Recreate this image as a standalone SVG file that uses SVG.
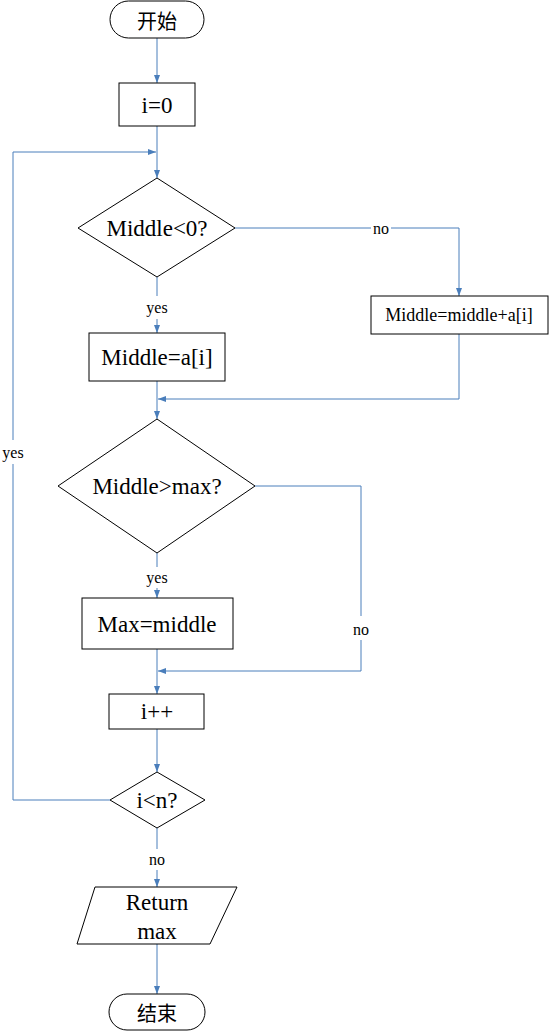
<svg xmlns="http://www.w3.org/2000/svg" width="549" height="1033" viewBox="0 0 549 1033">
<style>
.n{fill:#fff;stroke:#000;stroke-width:1}
text{font-family:"Liberation Serif","Noto Sans CJK SC",serif;fill:#000;text-anchor:middle;dominant-baseline:central}
.big{font-size:23px;font-family:"Liberation Serif",serif}
.cjk{font-size:20px;font-family:"Noto Sans CJK SC",sans-serif}
.lbl{font-size:16px;font-family:"Liberation Serif",serif}
.c{fill:none;stroke:#4A7EBB;stroke-width:1}
</style>
<defs>
<marker id="ah" viewBox="0 0 8 6" refX="8" refY="3" markerWidth="8" markerHeight="6" markerUnits="userSpaceOnUse" orient="auto">
<path d="M0,0 L8,3 L0,6 z" fill="#4A7EBB"/>
</marker>
</defs>
<rect width="549" height="1033" fill="#fff"/>
<g id="connectors">
<path class="c" d="M157,38 V83" marker-end="url(#ah)"/>
<path class="c" d="M157,126 V178" marker-end="url(#ah)"/>
<path class="c" d="M110,800 H13 V464"/>
<path class="c" d="M13,440 V152 H156" marker-end="url(#ah)"/>
<path class="c" d="M157,277 V296"/>
<path class="c" d="M157,319 V333" marker-end="url(#ah)"/>
<path class="c" d="M235,228 H371"/>
<path class="c" d="M391,228 H459 V296" marker-end="url(#ah)"/>
<path class="c" d="M157,381 V419" marker-end="url(#ah)"/>
<path class="c" d="M459,334 V399 H158" marker-end="url(#ah)"/>
<path class="c" d="M157,553 V567"/>
<path class="c" d="M157,588 V598" marker-end="url(#ah)"/>
<path class="c" d="M255,486 H361 V616"/>
<path class="c" d="M361,640 V671 H158" marker-end="url(#ah)"/>
<path class="c" d="M157,649 V694" marker-end="url(#ah)"/>
<path class="c" d="M157,729 V772" marker-end="url(#ah)"/>
<path class="c" d="M157,828 V849"/>
<path class="c" d="M157,870 V887" marker-end="url(#ah)"/>
<path class="c" d="M157,944 V994" marker-end="url(#ah)"/>
</g>
<g id="labels">
<text class="lbl" x="381" y="228">no</text>
<text class="lbl" x="157" y="307">yes</text>
<text class="lbl" x="157" y="577">yes</text>
<text class="lbl" x="361" y="629">no</text>
<text class="lbl" x="13" y="452">yes</text>
<text class="lbl" x="157" y="859">no</text>
</g>
<g id="start">
<rect class="n" x="110" y="1" width="94" height="37" rx="18.5"/>
<text class="cjk" x="157" y="20">开始</text>
</g>
<g id="init">
<rect class="n" x="119" y="83" width="76" height="43"/>
<text class="big" x="157" y="105">i=0</text>
</g>
<g id="cond1">
<polygon class="n" points="157,178 235,228 157,277 78,228"/>
<text class="big" x="157" y="228">Middle&lt;0?</text>
</g>
<g id="assign1">
<rect class="n" x="89" y="333" width="136" height="48"/>
<text class="big" x="157" y="357">Middle=a[i]</text>
</g>
<g id="assign2">
<rect class="n" x="371" y="296" width="177" height="38"/>
<text style="font-size:18px;font-family:'Liberation Serif',serif" x="459" y="315">Middle=middle+a[i]</text>
</g>
<g id="cond2">
<polygon class="n" points="157,419 255,486 157,553 58,486"/>
<text class="big" x="157" y="486">Middle&gt;max?</text>
</g>
<g id="assign3">
<rect class="n" x="82" y="598" width="151" height="51"/>
<text class="big" x="157" y="624">Max=middle</text>
</g>
<g id="incr">
<rect class="n" x="109" y="694" width="95" height="35"/>
<text class="big" x="157" y="711">i++</text>
</g>
<g id="cond3">
<polygon class="n" points="157,772 205,800 157,828 110,800"/>
<text class="big" x="157" y="800">i&lt;n?</text>
</g>
<g id="output">
<polygon class="n" points="95,887 237,887 210,944 77,944"/>
<text class="big" x="157" y="902">Return</text>
<text class="big" x="157" y="931">max</text>
</g>
<g id="end">
<rect class="n" x="109" y="994" width="96" height="36" rx="18"/>
<text class="cjk" x="157" y="1012">结束</text>
</g>
</svg>
